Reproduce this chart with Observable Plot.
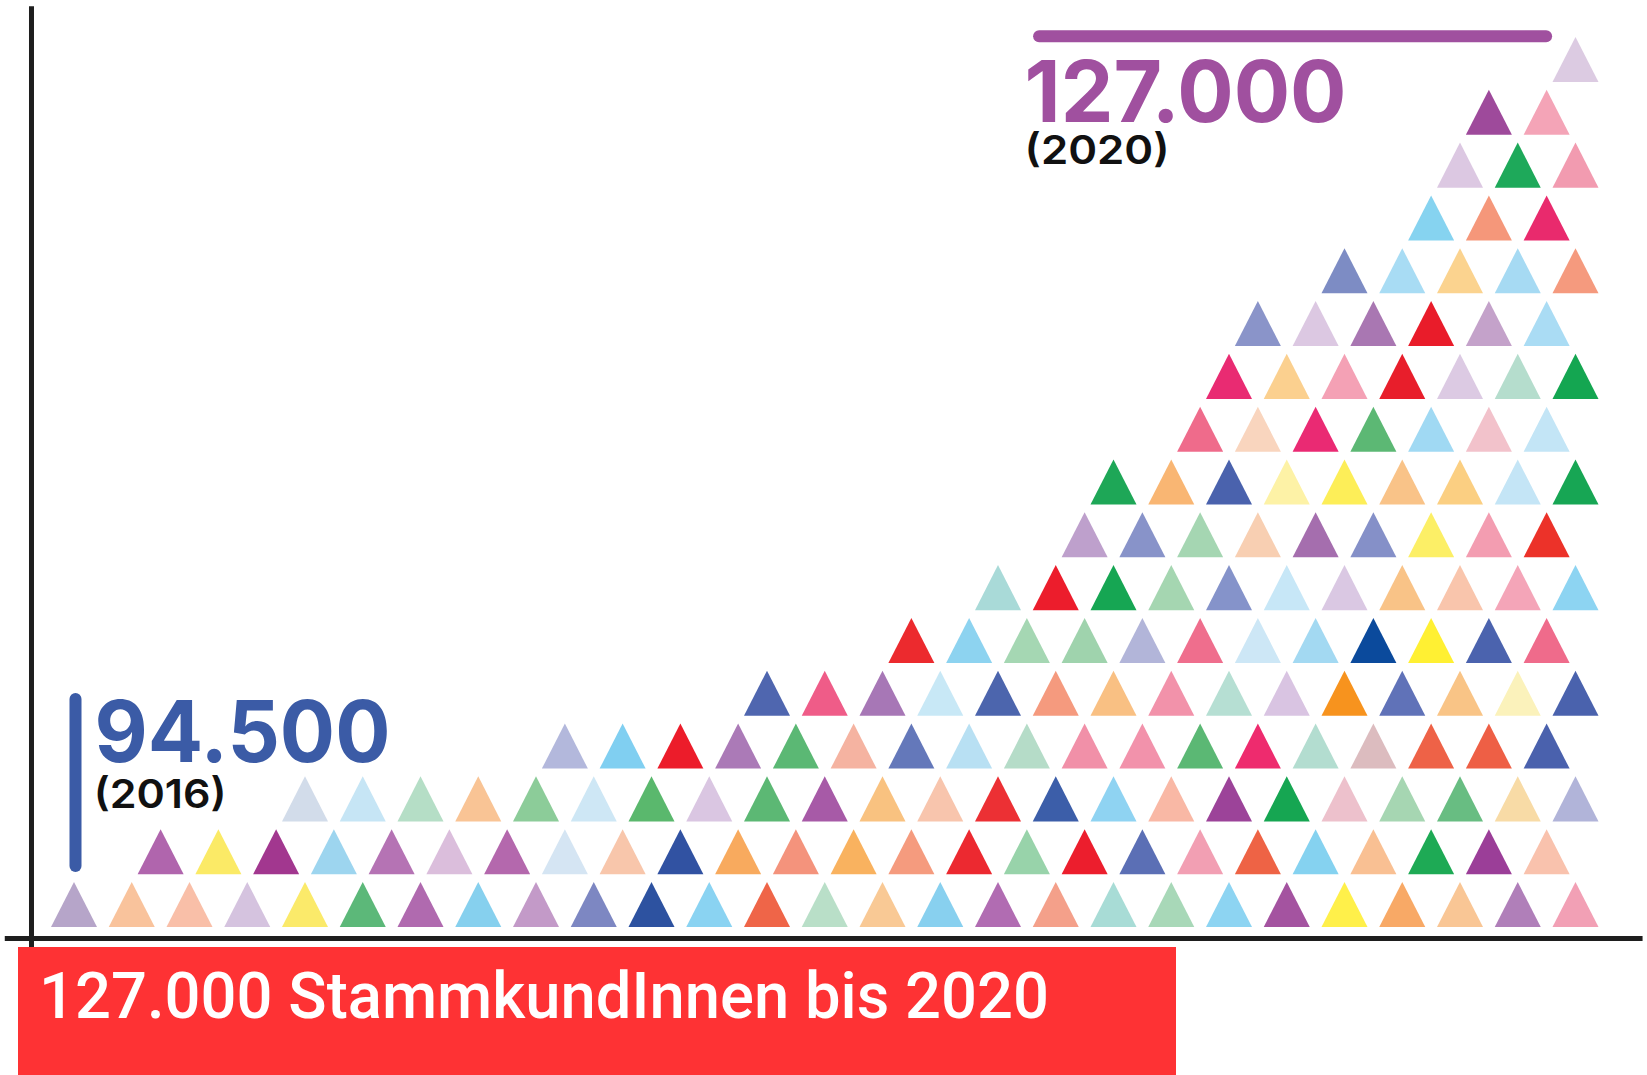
<!DOCTYPE html>
<html>
<head>
<meta charset="utf-8">
<script src="https://cdn.jsdelivr.net/npm/d3@7"></script>
<script src="https://cdn.jsdelivr.net/npm/@observablehq/plot@0.6"></script>
<style>
  html, body { margin: 0; padding: 0; background: #ffffff; }
  #chart svg { display: block; }
  #caption { margin-left: 18px; width: 1158px; height: 128px; background: #fe3234; position: relative; overflow: hidden; }
  #caption span { position: absolute; left: 21px; top: 18px; color: #ffffff; font-family: Roboto, "Noto Sans", sans-serif; font-weight: 500; font-size: 64px; line-height: 1; white-space: nowrap; transform-origin: left top; display: inline-block; }
</style>
</head>
<body>
<div id="chart"></div>
<div id="caption"><span id="captionText"></span></div>
<script>
// ---- Data: one array of triangle colours per row (bottom row first) ----
const rowStart = [0, 1.5, 4, 8.5, 12, 14.5, 16, 17.5, 18, 19.5, 20, 20.5, 22, 23.5, 24, 24.5, 26];

const row01 = ["#b6a5c9","#f9c39c","#f9bfa8","#d5c3df","#fbea6a","#5cb879","#b06aaf","#86d0ee","#c39ac8","#7d87c2","#2d52a0","#8ad3f2","#ef6548","#b9dfc8","#f9c995","#88d0ef","#b16cb2","#f4a08a","#a8dcd6","#a8d8b8","#8dd4f2","#a453a0","#fff04a","#f8a966","#f9c695","#b07fb9","#f2a0b5"];
const row02 = ["#b065ad","#fbea66","#a2378f","#9dd5ef","#b573b4","#dbbedc","#b468ad","#d5e5f3","#f8c6ab","#3152a2","#f8aa5e","#f4937c","#f9b25f","#f59b7e","#ec2930","#98d3aa","#ec1e2d","#5b6fb5","#f29fb3","#ee6345","#85d2f0","#f9c093","#1eaa55","#9b3e98","#f9c2ad"];
const row03 = ["#d2dcea","#c6e5f5","#b5dec6","#f9c495","#8ccc99","#cee7f5","#5ab86d","#dac6e2","#5cb874","#a75aa7","#f9c280","#f8c5ad","#ec3034","#3c5ea9","#8fd3f2","#f9b8a5","#9c4399","#16a652","#edc1cc","#a6d6b2","#68bd82","#f8dba6","#b1b4d9"];
const row04 = ["#b3b8dc","#80cff1","#ec1c2a","#ab7ab7","#5bb874","#f5b3a1","#6478ba","#b8e0f3","#b5dcc8","#f190a8","#f292ab","#5bb874","#ee2b6e","#b3ddd0","#dcbcbf","#ee6247","#ee5f45","#4a61ad"];
const row05 = ["#4f66af","#ef5c88","#a777b6","#c8e8f6","#4c65ad","#f59a7e","#f9c083","#f292aa","#b6dfd3","#d9c4e2","#f7931e","#6072b8","#f9c486","#fbf2bb","#4a62ad"];
const row06 = ["#ec2a2e","#8dd3f0","#a5d7b3","#9fd3ad","#b2b5d9","#ef6e8d","#cde7f6","#a3d9f2","#0b4a9c","#fff033","#4b63ae","#ef6b8b"];
const row07 = ["#a9dad8","#ec1d2c","#16a653","#a5d6b1","#8593ca","#c7e7f7","#dac8e3","#f9c387","#f9c5ac","#f4a5b8","#8dd4f2"];
const row08 = ["#bea0cc","#8893c9","#a5d6b2","#f8cfb2","#a56eae","#8590c8","#fcef66","#f39db1","#ec3229"];
const row09 = ["#1ea757","#f9b673","#4a62ad","#fdf2a6","#fdee58","#f9c388","#fbcf82","#c4e5f6","#17a654"];
const row10 = ["#ef6b8b","#f9d5be","#ea2a73","#5cb874","#a0d9f3","#f2c2cb","#c3e5f6"];
const row11 = ["#e92b72","#fbd08f","#f4a1b5","#e81e2b","#dccae3","#b5ddcd","#14a651"];
const row12 = ["#8a94c9","#dcc8e2","#a977b2","#e91c2a","#c4a2ca","#aadcf4"];
const row13 = ["#7d8cc4","#a8dcf4","#fbd38f","#a6daf3","#f59a7e"];
const row14 = ["#86d3f0","#f5977a","#e92a6d"];
const row15 = ["#dcc8e2","#1ea95a","#f29bb0"];
const row16 = ["#9e4a9b","#f4a4b7"];
const row17 = ["#dccbe2"];

const startValue = ["94.500"];
const startYear = ["(2016)"];
const endValue = ["127.000"];
const endYear = ["(2020)"];
const captionText = "127.000 StammkundInnen bis 2020";

// ---- Build triangle table ----
const rows = [row01,row02,row03,row04,row05,row06,row07,row08,row09,row10,row11,row12,row13,row14,row15,row16,row17];
const triangles = rows.flatMap((colors, r) =>
  colors.map((c, k) => ({col: rowStart[r] + k, row: r + 1, color: c}))
);

// custom upward triangle symbol (half-width r, height ~2r)
const triangleSymbol = {
  draw(context, size) {
    const r = Math.sqrt(size / Math.PI);
    const h = r * 0.98;
    context.moveTo(0, -h);
    context.lineTo(r, h);
    context.lineTo(-r, h);
    context.closePath();
  }
};

const numFont = "Inter, Lato, sans-serif";

const chart = Plot.plot({
  width: 1647,
  height: 947,
  margin: 0,
  x: {domain: [0, 26], range: [73.5, 1575], axis: null},
  y: {domain: [1, 17], range: [904, 59], axis: null},
  color: {type: "identity"},
  style: {background: "#ffffff"},
  marks: [
    Plot.ruleX([-0.736], {y1: -0.3, y2: 18.0, stroke: "#1e1e1e", strokeWidth: 5}),
    Plot.ruleY([0.356], {x1: -1.19, x2: 27.17, stroke: "#1e1e1e", strokeWidth: 5}),
    Plot.dot(triangles, {x: "col", y: "row", fill: "color", stroke: "none", r: 23, symbol: triangleSymbol}),
    Plot.ruleX([0.026], {y1: 1.72, y2: 4.88, stroke: "#3b5ba6", strokeWidth: 12, strokeLinecap: "round"}),
    Plot.ruleY([17.44], {x1: 16.72, x2: 25.5, stroke: "#a0509f", strokeWidth: 12, strokeLinecap: "round"}),
    Plot.text(startValue, {x: 0.355, y: 3.69, text: d => d, fill: "#3b5ba6", fontSize: 85, fontWeight: 700, fontFamily: numFont, textAnchor: "start", lineAnchor: "bottom", className: "lbl-start-value"}),
    Plot.text(startYear, {x: 0.34, y: 2.82, text: d => d, fill: "#111111", fontSize: 40, fontWeight: 600, fontFamily: numFont, textAnchor: "start", lineAnchor: "bottom", className: "lbl-start-year"}),
    Plot.text(endValue, {x: 16.46, y: 15.81, text: d => d, fill: "#a0509f", fontSize: 85, fontWeight: 700, fontFamily: numFont, textAnchor: "start", lineAnchor: "bottom", className: "lbl-end-value"}),
    Plot.text(endYear, {x: 16.46, y: 15.02, text: d => d, fill: "#111111", fontSize: 40, fontWeight: 600, fontFamily: numFont, textAnchor: "start", lineAnchor: "bottom", className: "lbl-end-year"})
  ]
});
document.getElementById("chart").appendChild(chart);

// fit label widths to the reference proportions
const fits = {"lbl-start-value": 296, "lbl-start-year": 133, "lbl-end-value": 322, "lbl-end-year": 145};
for (const [cls, len] of Object.entries(fits)) {
  chart.querySelectorAll(`g.${cls} text`).forEach(t => {
    t.setAttribute("textLength", len);
    t.setAttribute("lengthAdjust", "spacingAndGlyphs");
  });
}

const cap = document.getElementById("captionText");
cap.textContent = captionText;
const w = cap.getBoundingClientRect().width;
if (w > 0) cap.style.transform = `scaleX(${1010 / w})`;
</script>
</body>
</html>
